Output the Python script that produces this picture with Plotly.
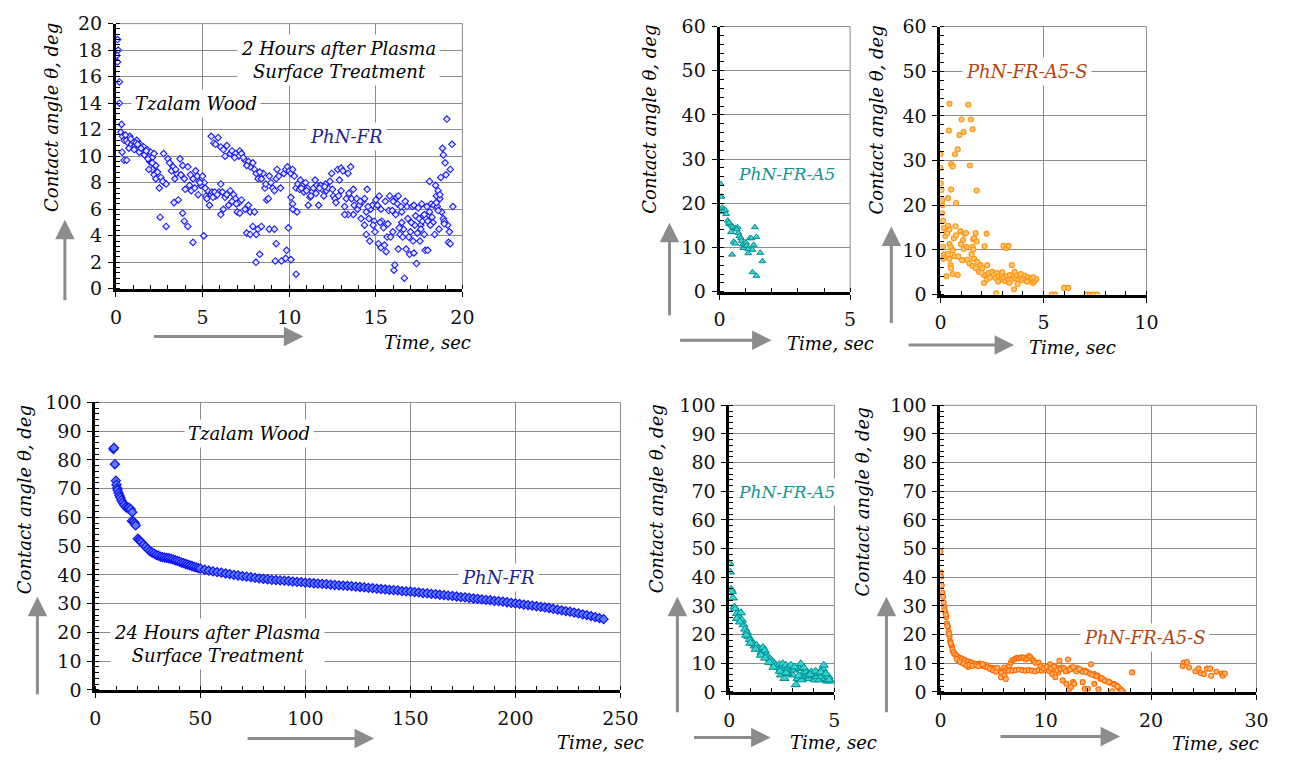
import plotly.graph_objects as go

W, H = 1300, 766
FONT = "DejaVu Serif"


def fx(p):
    return p / W


def fy(p):
    return 1 - p / H


# ---------------- data (time in s, contact angle in deg) ----------------
# 2 h after plasma, PhN-FR
pts_2h_fr = [
    (0.09, 18.8), (0.13, 18.0), (0.06, 17.6), (0.09, 17.1), (0.2, 15.6), (0.2, 14.0), (0.32, 12.4), (0.28, 11.8),
    (0.38, 11.5), (0.47, 11.2), (0.36, 10.3), (0.47, 9.7), (0.62, 9.7),
    (0.6, 11.2), (0.7, 11.0), (0.8, 11.5), (0.9, 10.9), (1.0, 11.1), (1.1, 10.8), (1.2, 11.2), (1.3, 10.6),
    (1.4, 10.9), (1.5, 10.4), (1.6, 10.7), (1.7, 10.2), (1.8, 10.5), (1.9, 10.0), (2.0, 10.3), (2.1, 9.9),
    (2.2, 10.2), (0.75, 10.6), (1.05, 10.5), (1.35, 10.3), (1.65, 10.1), (1.95, 9.6), (2.1, 9.0), (2.3, 9.3),
    (0.55, 11.6), (0.85, 11.3), (1.15, 11.0), (1.25, 10.9), (1.45, 10.6), (1.75, 10.4), (1.85, 9.8), (2.05, 9.5),
    (1.9, 9.0), (2.1, 9.5), (2.2, 8.6), (2.3, 8.3), (2.5, 7.6), (2.55, 5.4), (2.9, 4.7), (2.8, 8.0), (2.75, 10.2),
    (3.0, 9.8), (3.1, 9.5), (3.3, 9.2), (3.4, 8.3), (3.5, 8.7), (3.6, 6.7), (3.35, 6.5), (3.7, 9.8), (3.85, 9.3),
    (3.95, 8.3), (3.85, 5.7), (3.95, 5.1), (4.15, 4.7), (4.45, 3.5), (4.15, 9.2), (4.25, 7.8), (4.35, 7.4),
    (4.45, 8.3), (4.6, 8.9), (4.7, 8.5), (4.8, 8.1), (4.9, 7.8), (5.0, 8.5), (5.1, 8.0), (5.07, 4.0), (5.2, 7.0),
    (5.3, 7.4), (5.4, 6.3), (5.5, 7.1), (5.55, 7.3), (5.75, 7.0), (5.95, 7.3), (6.05, 7.9), (6.05, 5.6),
    (6.15, 7.3), (6.2, 6.0), (6.3, 6.9), (6.5, 6.3), (6.6, 7.4), (6.8, 7.1), (6.9, 6.8), (7.0, 5.8), (7.1, 6.5),
    (7.15, 5.7), (7.25, 6.7), (7.45, 6.0), (7.65, 6.3), (7.75, 5.8), (8.0, 5.8), (7.55, 4.2), (7.75, 4.1),
    (7.9, 4.7), (8.1, 4.1), (8.2, 4.5), (8.4, 4.7), (8.08, 2.0), (8.3, 2.6),
    (2.4, 8.8), (2.6, 8.4), (2.7, 8.1), (2.9, 7.9), (3.2, 8.9), (3.45, 9.0), (3.75, 8.6), (4.0, 7.5), (4.3, 8.6),
    (4.55, 7.6), (4.75, 7.1), (4.85, 8.0), (5.15, 7.6), (5.25, 6.8), (5.6, 6.9), (5.7, 7.3), (5.85, 7.1),
    (6.4, 7.1), (6.7, 6.6), (6.95, 6.4),
    (5.5, 11.5), (5.65, 11.0), (5.75, 10.9), (5.9, 11.4), (6.05, 10.7), (6.2, 10.5), (6.4, 10.8), (6.6, 10.2),
    (6.7, 10.4), (6.9, 10.2), (7.1, 10.0), (7.15, 10.4), (7.25, 10.2), (7.45, 9.7), (7.65, 9.6), (7.75, 9.2),
    (7.9, 9.5), (8.0, 9.0), (8.1, 8.7), (8.2, 8.3), (8.4, 8.3), (8.5, 8.7), (8.6, 7.6), (8.7, 6.7), (8.8, 6.8),
    (8.85, 8.5), (9.05, 7.6), (9.15, 7.4), (9.25, 8.3), (9.3, 9.0), (9.4, 8.5), (9.5, 7.6), (9.7, 8.7),
    (9.8, 9.0), (9.9, 9.2), (10.0, 8.9), (10.1, 8.7), (10.2, 9.0), (10.3, 8.5), (6.3, 10.0), (6.85, 9.9),
    (7.35, 9.9), (7.55, 9.3), (8.3, 8.8), (8.65, 7.9), (8.95, 8.0),
    (8.85, 4.5), (9.15, 4.5), (9.25, 3.4), (9.2, 2.1), (9.55, 2.1), (9.8, 2.3), (9.85, 2.9), (10.1, 2.2),
    (9.95, 4.6), (10.1, 6.9), (10.2, 6.4), (10.2, 6.0), (10.45, 5.8), (10.4, 1.1),
    (10.4, 7.6), (10.5, 7.9), (10.6, 7.5), (10.65, 8.2), (10.75, 7.8), (10.85, 7.3), (10.95, 8.0), (11.05, 7.6),
    (11.1, 6.3), (11.2, 6.9), (11.3, 7.3), (11.4, 7.6), (11.5, 8.2), (11.6, 7.8), (11.7, 6.3), (11.8, 7.8),
    (11.9, 7.5), (12.0, 7.0), (12.1, 7.9), (12.15, 7.4), (12.25, 7.6), (12.35, 8.1), (12.45, 8.7), (12.55, 7.0),
    (12.65, 6.8), (12.7, 6.5), (12.8, 9.0), (12.9, 8.2), (13.0, 9.1), (13.0, 7.4), (13.2, 6.2), (13.3, 6.8),
    (13.4, 8.7), (13.45, 7.2), (13.6, 6.8), (13.7, 7.5), (13.7, 5.6), (13.4, 5.6), (13.2, 5.6), (13.75, 6.3),
    (11.25, 7.0), (11.55, 7.2), (11.75, 7.6), (12.05, 7.7), (12.5, 7.5), (12.85, 7.0), (13.1, 8.9), (13.55, 9.2),
    (10.7, 7.6), (11.0, 7.4),
    (13.9, 6.8), (13.95, 6.0), (14.05, 6.3), (14.15, 5.3), (14.25, 6.6), (14.35, 6.8), (14.45, 5.8), (14.35, 4.8),
    (14.45, 4.1), (14.5, 7.5), (14.6, 5.3), (14.7, 6.0), (14.65, 3.6), (14.8, 6.3), (14.9, 5.1), (14.95, 4.3),
    (15.0, 6.7), (15.1, 6.3), (15.15, 3.4), (15.2, 7.0), (15.3, 6.0), (15.3, 3.1), (15.35, 5.1), (15.45, 4.6),
    (15.5, 3.3), (15.55, 6.6), (15.6, 2.8), (15.65, 3.9), (15.75, 5.9), (15.8, 7.0), (15.85, 3.9), (15.95, 5.9),
    (15.98, 4.3), (16.05, 1.4), (16.1, 1.8), (16.15, 5.6), (16.2, 6.9), (16.25, 6.4), (16.3, 3.0), (16.3, 7.0),
    (16.4, 4.1), (16.5, 5.8), (16.5, 5.0), (16.55, 3.9), (16.6, 4.5), (16.65, 0.8), (16.7, 6.6), (16.75, 3.0),
    (16.8, 6.2), (16.85, 5.3), (16.9, 3.9), (16.95, 2.6), (17.0, 4.3), (17.1, 6.2), (17.15, 3.6), (17.2, 6.3),
    (17.2, 2.7), (17.25, 4.8), (17.3, 5.5), (17.35, 1.9), (17.4, 4.2), (17.5, 5.3), (17.55, 3.6), (17.6, 4.8),
    (17.65, 6.4), (17.7, 5.1), (17.75, 5.5), (17.8, 4.1), (17.85, 2.9), (17.9, 5.3), (17.95, 6.2), (18.0, 5.1),
    (18.0, 2.9), (18.1, 5.8), (18.1, 8.1), (18.2, 6.4), (18.25, 5.4), (18.3, 5.0), (18.35, 6.3), (18.4, 4.1),
    (18.45, 7.8), (18.5, 7.0), (18.55, 6.2), (18.6, 7.4), (18.65, 4.5), (18.7, 6.8), (18.75, 8.4), (18.8, 5.8),
    (18.85, 10.6), (18.9, 5.3), (18.9, 10.1), (18.95, 5.1), (19.0, 9.5), (19.05, 8.6), (19.1, 12.8), (19.15, 4.8),
    (19.2, 3.5), (19.25, 4.3), (19.3, 9.0), (19.3, 3.4), (19.4, 10.9), (19.45, 6.2),
    (14.1, 6.6), (14.55, 6.2), (14.85, 4.8), (15.25, 5.0), (15.7, 4.9), (16.0, 6.6), (16.35, 4.6), (16.45, 6.2),
    (17.05, 5.0), (17.45, 6.1), (17.6, 4.5), (17.8, 5.6), (18.15, 4.8), (18.5, 6.5), (18.6, 5.9), (18.7, 7.1),
    (18.95, 4.9),
]

# 2 h after plasma, PhN-FR-A5
pts_2h_a5 = [
    (0.04, 24.4), (0.07, 21.5), (0.1, 19.0), (0.16, 18.7), (0.22, 18.5), (0.14, 18.1), (0.25, 17.6), (0.31, 16.1),
    (0.39, 15.3), (0.45, 15.0), (0.44, 13.5), (0.51, 14.6), (0.6, 14.4), (0.69, 14.6), (0.66, 14.1), (0.72, 13.3),
    (0.76, 12.6), (0.54, 11.3), (0.6, 10.9), (0.82, 12.1), (0.85, 11.5), (0.89, 10.7), (0.91, 9.9), (0.98, 10.5),
    (1.01, 11.1), (1.04, 10.4), (1.1, 9.6), (1.1, 8.7), (1.16, 12.1), (1.22, 12.1), (1.26, 9.5), (1.31, 10.6),
    (1.35, 14.6), (1.41, 12.4), (0.48, 8.4), (1.56, 8.8), (1.64, 6.9), (1.26, 4.4), (1.41, 3.6), (0.36, 15.6),
]

# 2 h after plasma, PhN-FR-A5-S
pts_2h_a5s = [
    (0.44, 42.7), (1.35, 42.5), (1.03, 39.2), (1.48, 39.2), (0.41, 36.7), (1.13, 36.4), (1.56, 37.0), (0.92, 35.7),
    (0.84, 32.5), (0.71, 31.4), (0.0, 31.4), (0.0, 28.3), (0.52, 29.2), (0.6, 28.7), (1.43, 28.9), (0.02, 24.9),
    (0.05, 23.4), (0.52, 23.5), (1.76, 23.3), (0.08, 21.1), (0.37, 21.6), (0.76, 20.5), (0.1, 20.0), (0.08, 18.2),
    (0.13, 16.5), (0.17, 14.9), (0.29, 14.2), (0.24, 13.1), (0.37, 15.4), (0.33, 13.8), (0.44, 14.6), (0.65, 12.6),
    (0.73, 15.3), (0.76, 13.3), (0.97, 14.2), (1.16, 13.6), (1.24, 13.8), (1.71, 13.8), (2.24, 13.6), (1.1, 12.2),
    (1.59, 12.4), (1.63, 12.6), (1.76, 11.9), (0.13, 10.7), (0.44, 11.3), (0.52, 10.6), (0.6, 9.9), (1.0, 11.3),
    (1.13, 10.2), (1.27, 10.7), (1.56, 10.7), (1.6, 10.1), (2.14, 10.8), (3.06, 10.9), (3.2, 10.4), (3.3, 10.9),
    (0.17, 9.0), (0.24, 8.4), (0.13, 8.0), (0.44, 8.0), (0.37, 9.1), (0.68, 8.6), (1.08, 7.7), (1.32, 7.8),
    (1.51, 9.0), (1.63, 8.0), (1.4, 7.0), (1.56, 6.4), (1.79, 7.3), (1.95, 6.6), (1.71, 5.9), (1.87, 5.1),
    (2.03, 5.9), (2.27, 6.6), (2.11, 4.4), (2.24, 3.3), (2.11, 2.6), (2.35, 4.8), (2.51, 5.1), (2.59, 4.4),
    (2.67, 3.7), (2.75, 4.8), (2.83, 4.1), (2.9, 3.3), (2.98, 4.4), (3.06, 3.7), (3.14, 3.0), (3.22, 4.1),
    (3.3, 3.3), (3.37, 4.4), (3.46, 6.6), (3.46, 3.3), (3.54, 4.1), (3.57, 1.2), (3.62, 3.7), (3.7, 4.4),
    (3.78, 3.3), (3.86, 4.1), (3.94, 3.2), (4.02, 3.7), (4.1, 4.2), (4.17, 3.5), (4.25, 3.9), (4.33, 3.2),
    (4.41, 3.7), (4.49, 2.6), (4.57, 3.0), (4.65, 3.5), (2.71, 0.3), (0.84, 4.4), (0.6, 4.6), (0.29, 4.1),
    (0.49, 6.6), (0.52, 5.9), (1.05, 7.7), (0.87, 8.5), (2.0, 4.9), (2.4, 3.8), (2.8, 2.9), (3.0, 5.0),
    (3.6, 5.1), (3.9, 4.6), (4.2, 2.9), (4.5, 3.9), (3.35, 2.6), (3.75, 2.4),
    (5.4, 0.0), (5.57, 0.0), (6.0, 1.5), (6.2, 1.5), (7.1, 0.0), (7.25, 0.0), (7.4, 0.0), (7.6, 0.0),
]

# 24 h after plasma, PhN-FR
pts_24h_fr = [
    (8.6, 83.8), (8.9, 84.2), (9.3, 78.5), (9.8, 72.8), (10.1, 71.4), (10.4, 70.2), (10.6, 69.5), (11.1, 68.5),
    (11.5, 67.6), (11.9, 66.9), (12.4, 66.0), (13.0, 65.2), (13.7, 64.4), (14.5, 63.6), (15.3, 63.2), (16.0, 63.4),
    (16.8, 62.9), (17.6, 61.8), (17.4, 58.8), (18.2, 58.5), (18.8, 58.0), (19.2, 57.2), (20.2, 52.6), (20.8, 52.2),
    (21.3, 51.8), (22, 51.3), (23, 50.5), (24, 49.8), (25, 49.0), (26, 48.3), (27, 47.8), (28, 47.4), (29, 47.0),
    (30, 46.7), (31, 46.4), (32, 46.2), (33, 46.0), (34, 45.9), (35, 45.8), (36, 45.6), (37, 45.4), (38, 45.1),
    (39, 44.9), (40, 44.6), (41, 44.3), (42, 44.1), (43, 43.8), (44, 43.6), (45, 43.3), (46, 43.1), (47, 42.8),
    (48, 42.6), (49, 42.4), (50, 42.2), (52, 41.8), (54, 41.5), (56, 41.2), (58, 41.0), (60, 40.8), (62, 40.5),
    (64, 40.3), (66, 40.0),
    (68, 39.8), (70, 39.6), (72, 39.4), (74, 39.2), (76, 39.0), (78, 38.8), (80, 38.6), (82, 38.5), (84, 38.3),
    (86, 38.2), (88, 38.1), (90, 38.0), (92, 37.9), (94, 37.7), (96, 37.6), (98, 37.5), (100, 37.3),
    (102, 37.2), (104, 37.1), (106, 37.0), (108, 36.9), (110, 36.8), (112, 36.6), (114, 36.5), (116, 36.4),
    (118, 36.3), (120, 36.2), (122, 36.1), (124, 35.9), (126, 35.8), (128, 35.7), (130, 35.5), (132, 35.4),
    (134, 35.2), (136, 35.1), (138, 35.0), (140, 34.8), (142, 34.7), (144, 34.6), (146, 34.4), (148, 34.3),
    (150, 34.2), (152, 34.0), (154, 33.9), (156, 33.7), (158, 33.6), (160, 33.4), (162, 33.3), (164, 33.1),
    (166, 33.0), (168, 32.8), (170, 32.7), (172, 32.5), (174, 32.3), (176, 32.2), (178, 32.0), (180, 31.8),
    (182, 31.7), (184, 31.5), (186, 31.3), (188, 31.2), (190, 31.0), (192, 30.9), (194, 30.7), (196, 30.5),
    (198, 30.3), (200, 30.1), (202, 29.9), (204, 29.7), (206, 29.5), (208, 29.3), (210, 29.1), (212, 28.9),
    (214, 28.7), (216, 28.5), (218, 28.2), (220, 27.9), (222, 27.7), (224, 27.4), (226, 27.2), (228, 26.9),
    (230, 26.6), (232, 26.3), (234, 26.0), (236, 25.7), (238, 25.3), (240, 25.0), (242, 24.6),
]

# 24 h after plasma, PhN-FR-A5
pts_24h_a5 = [
    (0.0, 44.9), (0.03, 41.8), (0.08, 35.8), (0.12, 35.0), (0.17, 32.8), (0.23, 29.6), (0.28, 29.0), (0.36, 27.3),
    (0.44, 26.2), (0.55, 27.6), (0.59, 25.1), (0.67, 23.4), (0.75, 21.9), (0.83, 20.8), (0.9, 19.4), (0.98, 18.3),
    (1.06, 17.4), (1.14, 16.9), (1.21, 16.0), (1.29, 16.3), (1.37, 15.1), (1.45, 14.9), (1.53, 13.8), (1.6, 15.5),
    (1.68, 14.4), (1.76, 12.9), (1.84, 12.1), (1.92, 11.5), (2.0, 11.0), (2.07, 10.4), (2.15, 9.8), (2.23, 9.3),
    (2.3, 8.7), (2.38, 9.5), (2.46, 8.1), (2.54, 9.8), (2.62, 7.6), (2.69, 9.3), (2.77, 8.1), (2.85, 7.0),
    (2.93, 9.3), (3.0, 5.9), (3.08, 7.6), (3.16, 2.5), (3.24, 4.7), (3.32, 8.1), (3.4, 9.8), (3.44, 4.2),
    (3.5, 6.4), (3.6, 5.3), (3.66, 7.0), (3.75, 5.9), (3.8, 4.7), (3.9, 7.0), (3.96, 5.6), (4.06, 4.2),
    (4.14, 5.3), (4.22, 6.4), (4.28, 4.2), (4.38, 5.3), (4.44, 8.1), (4.49, 9.3), (4.56, 4.7), (4.64, 3.8),
    (4.72, 5.3), (4.8, 3.8), (2.46, 5.9), (2.62, 4.7), (2.77, 6.4), (0.36, 25.6), (0.5, 24.4), (0.8, 19.8),
    (1.0, 17.0), (1.25, 14.9), (1.5, 12.8), (1.7, 11.8), (1.9, 10.3), (2.1, 8.6), (2.4, 7.2), (2.7, 6.6),
    (3.1, 8.7), (3.3, 5.6), (3.55, 8.4), (3.85, 6.1), (4.1, 7.2), (4.35, 6.9), (4.6, 6.3), (4.75, 4.2),
]

# 24 h after plasma, PhN-FR-A5-S
pts_24h_a5s = [
    (0.0, 49.0), (0.02, 41.7), (0.06, 40.2), (0.12, 37.1), (0.19, 34.6), (0.25, 33.2), (0.31, 31.2), (0.37, 29.5),
    (0.47, 27.8), (0.56, 26.1), (0.62, 23.8), (0.71, 22.7), (0.78, 21.0), (0.87, 19.3), (0.93, 17.6), (1.09, 15.9),
    (1.18, 14.2), (1.3, 13.3), (1.49, 12.7), (1.71, 12.1), (1.93, 11.7), (2.17, 11.3), (2.48, 10.8), (2.8, 10.4),
    (3.1, 10.0), (3.42, 9.6), (3.73, 9.4), (4.04, 9.1), (4.35, 8.7), (4.66, 8.5), (4.97, 8.3), (5.28, 7.9),
    (1.71, 10.8), (2.02, 10.2), (2.33, 9.6), (2.64, 8.7), (2.95, 9.1), (3.26, 9.6), (3.73, 9.9), (4.35, 9.4),
    (5.59, 7.4), (5.75, 5.1), (5.9, 6.8), (6.06, 8.5), (6.21, 7.4), (6.37, 7.9), (6.52, 9.1), (6.68, 10.2),
    (6.83, 11.0), (6.99, 11.3), (7.14, 11.6), (7.3, 11.9), (7.45, 11.7), (7.61, 11.9), (7.76, 12.1), (7.92, 11.9),
    (8.07, 11.3), (8.23, 11.7), (8.39, 12.5), (8.54, 12.1), (8.7, 11.3), (8.85, 10.8), (9.01, 10.2), (9.32, 10.2),
    (6.52, 7.4), (6.83, 7.4), (7.14, 7.6), (7.45, 7.8), (7.76, 7.6), (8.07, 7.4), (8.39, 7.6), (8.7, 7.4),
    (9.01, 7.1), (9.32, 7.6), (9.63, 7.4), (9.94, 7.6), (5.75, 6.8), (6.06, 5.7), (6.21, 4.5),
    (10.4, 9.6), (10.7, 7.9), (11.0, 8.5), (11.3, 10.8), (11.5, 8.5), (11.8, 7.9), (12.1, 11.3), (12.1, 7.4),
    (12.4, 8.5), (12.7, 7.9), (13.0, 8.3), (13.3, 7.6), (13.7, 7.4), (14.0, 6.8), (14.3, 9.6), (14.6, 6.2),
    (14.9, 5.7), (15.1, 5.1),
    (10.6, 6.2), (10.9, 5.1), (11.2, 6.8), (11.6, 4.0), (11.95, 2.8), (12.2, 0.8), (12.4, 1.7), (12.6, 3.4),
    (12.7, 2.8), (13.5, 3.4), (13.7, 1.1), (14.0, 1.1), (14.6, 2.8),
    (14.7, 5.6), (15.2, 4.5), (15.5, 4.3), (15.8, 3.6), (16.1, 3.2), (16.4, 2.8), (16.7, 2.3), (16.9, 1.5),
    (17.1, 0.9), (17.35, 0.0), (15.0, 0.9), (16.3, 0.2), (17.1, 0.2), (18.2, 6.8),
    (23.1, 10.2), (23.4, 10.4), (23.0, 9.0), (23.6, 8.5), (24.2, 7.2), (24.5, 8.1), (24.7, 6.6), (25.0, 6.2),
    (25.3, 8.1), (25.6, 8.1), (25.7, 5.6), (26.2, 7.0), (26.7, 6.4), (26.8, 5.6), (27.0, 6.4),
    (1.0, 16.5), (1.15, 14.8), (1.25, 13.8), (1.4, 13.0), (1.6, 12.4), (1.8, 11.9), (2.05, 11.5), (2.3, 11.0),
    (2.6, 10.6), (2.9, 10.2), (3.25, 9.8), (3.55, 9.5), (3.9, 9.2), (4.2, 8.9), (4.5, 8.6), (4.8, 8.4),
    (5.1, 8.1), (5.45, 7.7), (1.55, 11.5), (1.85, 10.5), (2.2, 9.9), (2.5, 9.2), (2.75, 9.4), (3.05, 9.1),
    (3.4, 9.3), (3.6, 9.0), (4.0, 9.7), (4.7, 8.0), (5.0, 7.5), (5.3, 7.0), (5.4, 8.4), (0.4, 28.5),
    (0.5, 26.9), (0.66, 23.0), (0.82, 20.2), (0.97, 17.0),
    (9.5, 9.0), (9.8, 8.2), (10.1, 8.8), (10.3, 7.3), (10.5, 8.2), (10.8, 8.8), (11.1, 7.6), (11.4, 8.0),
    (11.7, 8.3), (11.9, 7.1), (12.3, 7.8), (12.6, 8.6), (12.9, 7.2), (13.2, 8.0), (13.5, 7.0), (13.8, 6.9),
    (14.2, 6.4), (14.4, 6.0), (14.8, 5.5), (15.3, 4.8), (15.6, 3.9), (16.0, 3.5), (16.5, 2.6), (16.8, 1.9),
    (17.2, 0.5),
]

# ---------------- panel geometry (pixels) ----------------
# suffix, left, right, top, bottom, x range, x dtick, x minor, y range, y dtick, y minor
panels = [
    ("", 112, 465, 13, 286, [0, 20], 5, 1, [0, 20], 2, 0.4),
    ("2", 727, 860, 16, 289, [0, 5], 5, 1, [0, 60], 10, 2),
    ("3", 952, 1162, 16, 292, [0, 10], 5, 1, [0, 60], 10, 2),
    ("4", 91, 626, 403, 699, [0, 250], 50, 10, [0, 100], 10, 2),
    ("5", 737, 844, 406, 701, [0, 5], 5, 1, [0, 100], 10, 2),
    ("6", 952, 1274, 406, 701, [0, 30], 10, 2, [0, 100], 10, 2),
]

fig = go.Figure()

series = [
    (pts_2h_fr, "", dict(symbol="diamond", size=5, color="#e4e8ff", line=dict(color="#1a1aff", width=1.1))),
    (pts_2h_a5, "2", dict(symbol="triangle-up", size=6, color="#3fd6d6", line=dict(color="#008b8b", width=1))),
    (pts_2h_a5s, "3", dict(symbol="circle", size=5, color="#ffc66e", line=dict(color="#ff9410", width=1.1))),
    (pts_24h_fr, "4", dict(symbol="diamond", size=7, color="#5a7cff", line=dict(color="#1010f0", width=1.2))),
    (pts_24h_a5, "5", dict(symbol="triangle-up", size=8, color="#35d4d4", line=dict(color="#008c8c", width=1))),
    (pts_24h_a5s, "6", dict(symbol="circle", size=5, color="#ffb36a", line=dict(color="#ff6a00", width=1.1))),
]
for pts, sfx, mk in series:
    fig.add_trace(go.Scatter(
        x=[p[0] for p in pts], y=[p[1] for p in pts], mode="markers", marker=mk,
        xaxis="x" + sfx, yaxis="y" + sfx, showlegend=False, hoverinfo="skip",
    ))

layout = dict(width=W, height=H, margin=dict(l=0, r=0, t=0, b=0), paper_bgcolor="white",
              plot_bgcolor="white", showlegend=False, font=dict(family=FONT))
shapes = []
GRID = "#8c8c8c"
for sfx, x0, x1, y0, y1, xr, xd, xm, yr, yd, ym in panels:
    common = dict(showline=True, linewidth=3, linecolor="black", showgrid=True, gridcolor=GRID, gridwidth=1,
                  zeroline=False, ticks="outside", ticklen=5, tickwidth=1, tickcolor="black", tick0=0,
                  tickfont=dict(family=FONT, size=19, color="#111111"), fixedrange=True)
    layout["xaxis" + sfx] = dict(common, domain=[fx(x0), fx(x1)], range=xr, dtick=xd, anchor="y" + sfx,
                                 ticklabelstandoff=4,
                                 minor=dict(dtick=xm, tick0=0, ticks="inside", ticklen=4, tickcolor="black",
                                            showgrid=False))
    layout["yaxis" + sfx] = dict(common, domain=[fy(y1), fy(y0)], range=yr, dtick=yd, anchor="x" + sfx,
                                 ticklabelstandoff=2,
                                 minor=dict(dtick=ym, tick0=0, ticks="inside", ticklen=4, tickcolor="black",
                                            showgrid=False))
    shapes.append(dict(type="line", xref="paper", yref="paper", x0=fx(x0), x1=fx(x1), y0=fy(y0), y1=fy(y0),
                       line=dict(color=GRID, width=1), layer="below"))
    shapes.append(dict(type="line", xref="paper", yref="paper", x0=fx(x1), x1=fx(x1), y0=fy(y0), y1=fy(y1),
                       line=dict(color=GRID, width=1), layer="below"))
layout["shapes"] = shapes

ann = []


def text(x, y, s, color="black", bg=True, angle=0, size=18):
    ann.append(dict(x=fx(x), y=fy(y), xref="paper", yref="paper", text=s, showarrow=False,
                    font=dict(family=FONT, size=size, color=color), textangle=angle,
                    bgcolor="white" if bg else None, borderpad=3, xanchor="center", yanchor="middle"))


def arrow(tx, ty, hx, hy):
    ann.append(dict(x=fx(hx), y=fy(hy), xref="paper", yref="paper", text="", showarrow=True,
                    ax=tx - hx, ay=ty - hy, arrowhead=2, arrowsize=1.3, arrowwidth=3, arrowcolor="#8c8c8c",
                    standoff=0, startstandoff=0))


YT = "<i>Contact angle θ, deg</i>"
XT = "<i>Time, sec</i>"
for (x, y) in [(47, 110), (656, 111), (887, 112), (19, 503), (663, 502), (873, 505)]:
    text(x, y, YT, bg=False, angle=-90, size=18)
for (x, y) in [(429, 341), (840, 342), (1087, 346), (606, 753), (843, 753), (1232, 754)]:
    text(x, y, XT, bg=False, size=18)

# arrows: tail -> head
arrow(60, 297, 60, 215)
arrow(152, 335, 303, 335)
arrow(676, 312, 676, 218)
arrow(687, 339, 780, 339)
arrow(902, 320, 902, 222)
arrow(920, 344, 1027, 344)
arrow(32, 702, 32, 603)
arrow(247, 749, 375, 749)
arrow(684, 720, 684, 603)
arrow(701, 748, 779, 748)
arrow(897, 720, 897, 603)
arrow(1014, 747, 1135, 747)

NAVY = "#1f1f8f"
TEAL = "#159393"
BROWN = "#b4440f"
text(339, 50, "<i>2 Hours after Plasma<br>Surface Treatment</i>")
text(194, 95, "<i>Tzalam Wood</i>")
text(347, 129, "<i>PhN-FR</i>", color=NAVY)
text(795, 168, "<i>PhN-FR-A5</i>", color=TEAL, size=17)
text(1040, 62, "<i>PhN-FR-A5-S</i>", color=BROWN)
text(248, 435, "<i>Tzalam Wood</i>")
text(502, 583, "<i>PhN-FR</i>", color=NAVY)
text(215, 652, "<i>24 Hours after Plasma<br>Surface Treatment</i>")
text(795, 495, "<i>PhN-FR-A5</i>", color=TEAL, size=17)
text(1160, 645, "<i>PhN-FR-A5-S</i>", color=BROWN)

layout["annotations"] = ann
fig.update_layout(**layout)
fig.write_html("out.html")
